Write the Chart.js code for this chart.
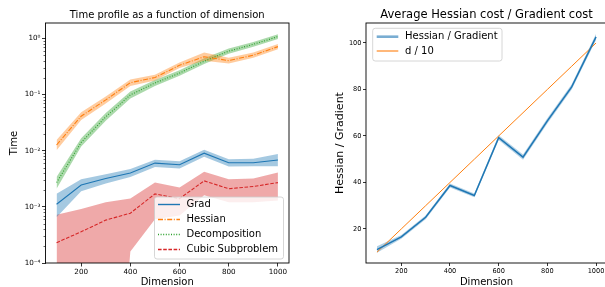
<!DOCTYPE html>
<html><head><meta charset="utf-8">
<script src="https://cdn.jsdelivr.net/npm/chart.js@4"></script>
<style>
html,body{margin:0;padding:0;background:#fff;overflow:hidden;width:605px;height:287px;}
#wrap{position:relative;width:605px;height:287px;overflow:hidden;background:#fff;}
canvas{position:absolute;top:0;}
</style></head><body>
<div id="wrap">
<canvas id="c1" width="300" height="287" style="left:0;width:300px;height:287px"></canvas>
<canvas id="c2" width="320" height="287" style="left:300px;width:320px;height:287px"></canvas>
</div>
<script>
// ---------- data ----------
const dims = [100, 200, 300, 400, 500, 600, 700, 800, 900, 1000];
const xTickValues = [200, 400, 600, 800, 1000];

const gradMean = [0.00111, 0.00245, 0.0032, 0.0040, 0.0060, 0.0056, 0.0090, 0.0061, 0.0061, 0.0068];
const gradLo   = [0.00065, 0.0019, 0.0026, 0.0034, 0.0051, 0.0048, 0.0078, 0.0052, 0.0053, 0.0053];
const gradHi   = [0.0017, 0.0031, 0.0038, 0.0047, 0.0069, 0.0065, 0.0104, 0.0070, 0.0072, 0.0087];

const hessMean = [0.0126, 0.041, 0.080, 0.162, 0.20, 0.33, 0.47, 0.40, 0.50, 0.71];
const hessLo   = [0.0102, 0.035, 0.069, 0.142, 0.178, 0.295, 0.40, 0.355, 0.45, 0.64];
const hessHi   = [0.0155, 0.048, 0.092, 0.185, 0.225, 0.37, 0.56, 0.45, 0.56, 0.79];

const decMean  = [0.0027, 0.0140, 0.040, 0.098, 0.16, 0.24, 0.39, 0.59, 0.78, 1.07];
const decLo    = [0.0021, 0.0118, 0.034, 0.085, 0.142, 0.215, 0.35, 0.53, 0.71, 0.97];
const decHi    = [0.0034, 0.0166, 0.047, 0.113, 0.18, 0.27, 0.44, 0.66, 0.86, 1.18];

const cubMean  = [0.00023, 0.00036, 0.00058, 0.00077, 0.0017, 0.0014, 0.0029, 0.0021, 0.0023, 0.0027];
const cubLo    = [1e-9, 1e-9, 1e-9, 0.00016, 0.0006, 0.0007, 0.0016, 0.0012, 0.0012, 0.0013];
const cubHi    = [0.00072, 0.00091, 0.0012, 0.0014, 0.0027, 0.0022, 0.0042, 0.0031, 0.0032, 0.0041];

const logTickValues = [1e-4, 1e-3, 1e-2, 1e-1, 1];
const logTickLabels = ['10\u207B\u2074', '10\u207B\u00B3', '10\u207B\u00B2', '10\u207B\u00B9', '10\u2070'];

const ratioMean = [11.1, 16.6, 25.0, 38.7, 34.4, 59.3, 50.9, 66.5, 81.1, 102.6];
const ratioLo   = [9.7, 15.8, 24.2, 37.8, 33.6, 58.3, 49.8, 65.4, 80.0, 101.3];
const ratioHi   = [12.5, 17.4, 25.8, 39.6, 35.2, 60.3, 52.0, 67.6, 82.2, 103.9];
const dOver10   = [10, 20, 30, 40, 50, 60, 70, 80, 90, 100];
const ratioTickValues = [20, 40, 60, 80, 100];

const labelsLeft = ['Grad', 'Hessian', 'Decomposition', 'Cubic Subproblem'];
const labelsRight = ['Hessian / Gradient', 'd / 10'];

// ---------- helpers ----------
const FONT = "'DejaVu Sans', sans-serif";
const C0 = '#1f77b4', C1 = '#ff7f0e', C2 = '#2ca02c', C3 = '#d62728';
const pts = arr => dims.map((d, i) => ({x: d, y: arr[i]}));

function lineDs(label, arr, color, dash, width, order, extra) {
  return Object.assign({label, data: pts(arr), borderColor: color, borderDash: dash,
    borderWidth: width, pointRadius: 0, fill: false, tension: 0, order, inLegend: true}, extra || {});
}
function bandDs(arr, fillColor, order, isUpper) {
  return {label: '', data: pts(arr), borderColor: 'rgba(0,0,0,0)', borderWidth: 0,
    pointRadius: 0, tension: 0, order, fill: isUpper ? '-1' : false,
    backgroundColor: fillColor, inLegend: false};
}

function framePlugin(title, titleSize, legendBox) {
  return {
    id: 'decor',
    afterDatasetsDraw(chart) {
      const ctx = chart.ctx, a = chart.chartArea;
      ctx.save();
      // minor ticks for log axis
      const ys = chart.scales.y;
      if (ys.type === 'logarithmic') {
        ctx.strokeStyle = '#000'; ctx.lineWidth = 0.6;
        ys.ticks.forEach(t => {
          if (!isMajorLog(t.value)) {
            const py = Math.round(ys.getPixelForValue(t.value)) + 0.5;
            ctx.beginPath(); ctx.moveTo(a.left - 2, py); ctx.lineTo(a.left, py); ctx.stroke();
          }
        });
      }
      // frame
      ctx.strokeStyle = '#000'; ctx.lineWidth = 0.9;
      ctx.strokeRect(a.left, a.top, a.right - a.left, a.bottom - a.top);
      // title
      ctx.fillStyle = '#000';
      ctx.font = titleSize + 'px ' + FONT;
      ctx.textAlign = 'center'; ctx.textBaseline = 'middle';
      ctx.fillText(title, (a.left + a.right) / 2, 15.5);
      // legend
      const L = legendBox;
      ctx.beginPath();
      if (ctx.roundRect) ctx.roundRect(L.x, L.y, L.w, L.h, 2.5); else ctx.rect(L.x, L.y, L.w, L.h);
      ctx.fillStyle = 'rgba(255,255,255,0.8)'; ctx.fill();
      ctx.strokeStyle = '#cccccc'; ctx.lineWidth = 0.8; ctx.stroke();
      ctx.font = L.font + 'px ' + FONT; ctx.textAlign = 'left'; ctx.textBaseline = 'middle';
      const items = chart.data.datasets.filter(d => d.inLegend);
      items.forEach((d, i) => {
        const yy = L.y + L.first + i * L.row;
        ctx.save();
        ctx.strokeStyle = d.legendColor || d.borderColor;
        ctx.lineWidth = d.legendWidth || 1.4;
        ctx.setLineDash(d.borderDash || []);
        ctx.beginPath(); ctx.moveTo(L.x + L.s0, yy); ctx.lineTo(L.x + L.s1, yy); ctx.stroke();
        ctx.restore();
        ctx.fillStyle = '#000';
        ctx.fillText(d.label, L.x + L.tx, yy);
      });
      ctx.restore();
    }
  };
}
function isMajorLog(v) {
  return logTickValues.some(t => Math.abs(v - t) / t < 1e-6);
}
const plainNum = v => String(v);

// ---------- left chart ----------
const leftDatasets = [
  lineDs(labelsLeft[0], gradMean, C0, [], 1.1, 0),
  lineDs(labelsLeft[1], hessMean, C1, [5, 1.6, 1, 1.6], 1.1, 1),
  lineDs(labelsLeft[2], decMean, C2, [1, 1.6], 1.1, 2),
  lineDs(labelsLeft[3], cubMean, C3, [3.6, 1.6], 1.1, 3),
  bandDs(gradLo, 'rgba(31,119,180,0.4)', 10, false),
  bandDs(gradHi, 'rgba(31,119,180,0.4)', 10, true),
  bandDs(hessLo, 'rgba(255,127,14,0.4)', 11, false),
  bandDs(hessHi, 'rgba(255,127,14,0.4)', 11, true),
  bandDs(decLo, 'rgba(44,160,44,0.4)', 12, false),
  bandDs(decHi, 'rgba(44,160,44,0.4)', 12, true),
  bandDs(cubLo, 'rgba(214,39,40,0.4)', 13, false),
  bandDs(cubHi, 'rgba(214,39,40,0.4)', 13, true)
];

new Chart(document.getElementById('c1'), {
  type: 'line',
  data: {datasets: leftDatasets},
  options: {
    responsive: false, animation: false, devicePixelRatio: 1,
    layout: {padding: {top: 23, right: 11, bottom: 0, left: 0}},
    plugins: {legend: {display: false}, tooltip: {enabled: false}, title: {display: false}},
    scales: {
      x: {
        type: 'linear', min: 55, max: 1045,
        afterBuildTicks: s => { s.ticks = xTickValues.map(v => ({value: v})); },
        afterFit: s => { s.height = 24; },
        grid: {drawOnChartArea: false, drawTicks: true, tickLength: 3.5, tickColor: '#000', tickWidth: 0.8},
        border: {display: false},
        ticks: {autoSkip: false, maxRotation: 0, padding: 1, color: '#000', font: {family: FONT, size: 7.2}, callback: plainNum},
        title: {display: true, text: 'Dimension', color: '#000', font: {family: FONT, size: 10, lineHeight: 1}, padding: {top: 0, bottom: 0}}
      },
      y: {
        type: 'logarithmic', min: 1e-4, max: 1.87,
        afterBuildTicks: s => {
          const t = [];
          for (let e = -4; e <= 0; e++) for (let k = 1; k <= 9; k++) {
            const v = k * Math.pow(10, e);
            if (v >= 1e-4 * 0.999999 && v <= 1.87) t.push({value: v});
          }
          s.ticks = t;
        },
        afterFit: s => { s.width = 45.5; },
        grid: {drawOnChartArea: false, drawTicks: true, tickLength: 3.5, tickWidth: 0.8,
          tickColor: c => (c.tick && isMajorLog(c.tick.value)) ? '#000' : 'rgba(0,0,0,0)'},
        border: {display: false},
        ticks: {autoSkip: false, padding: 1.5, color: '#000', font: {family: FONT, size: 7.2},
          callback: v => { const i = logTickValues.findIndex(t => Math.abs(v - t) / t < 1e-6); return i >= 0 ? logTickLabels[i] : ''; }},
        title: {display: true, text: 'Time', color: '#000', font: {family: FONT, size: 10, lineHeight: 1}, padding: {top: 9, bottom: 0}}
      }
    }
  },
  plugins: [framePlugin('Time profile as a function of dimension', 10,
    {x: 154.5, y: 197, w: 129, h: 62, first: 7.5, row: 15, s0: 3.5, s1: 25.5, tx: 32, font: 10})]
});

// ---------- right chart ----------
const rightDatasets = [
  lineDs(labelsRight[0], ratioMean, C0, [], 1.5, 0, {legendColor: 'rgba(31,119,180,0.6)', legendWidth: 2.6}),
  lineDs(labelsRight[1], dOver10, C1, [], 1, 1, {legendWidth: 1.1}),
  bandDs(ratioLo, 'rgba(31,119,180,0.35)', 10, false),
  bandDs(ratioHi, 'rgba(31,119,180,0.35)', 10, true)
];

new Chart(document.getElementById('c2'), {
  type: 'line',
  data: {datasets: rightDatasets},
  options: {
    responsive: false, animation: false, devicePixelRatio: 1,
    layout: {padding: {top: 23, right: 13, bottom: 0, left: 0}},
    plugins: {legend: {display: false}, tooltip: {enabled: false}, title: {display: false}},
    scales: {
      x: {
        type: 'linear', min: 55, max: 1045,
        afterBuildTicks: s => { s.ticks = xTickValues.map(v => ({value: v})); },
        afterFit: s => { s.height = 24; },
        grid: {drawOnChartArea: false, drawTicks: true, tickLength: 3, tickColor: '#000', tickWidth: 0.8},
        border: {display: false},
        ticks: {autoSkip: false, maxRotation: 0, padding: 1.5, color: '#000', font: {family: FONT, size: 6.6}, callback: plainNum},
        title: {display: true, text: 'Dimension', color: '#000', font: {family: FONT, size: 10, lineHeight: 1}, padding: {top: 0, bottom: 0}}
      },
      y: {
        type: 'linear', min: 5.35, max: 108.6,
        afterBuildTicks: s => { s.ticks = ratioTickValues.map(v => ({value: v})); },
        afterFit: s => { s.width = 66; },
        grid: {drawOnChartArea: false, drawTicks: true, tickLength: 3, tickColor: '#000', tickWidth: 0.8},
        border: {display: false},
        ticks: {autoSkip: false, padding: 1.5, color: '#000', font: {family: FONT, size: 6.6}, callback: plainNum},
        title: {display: true, text: 'Hessian / Gradient', color: '#000', font: {family: FONT, size: 11, lineHeight: 1}, padding: {top: 34.5, bottom: 0}}
      }
    }
  },
  plugins: [framePlugin('Average Hessian cost / Gradient cost', 11.5,
    {x: 72.7, y: 28.3, w: 129.3, h: 32.7, first: 8.4, row: 14.3, s0: 4, s1: 25.6, tx: 32.3, font: 10})]
});
</script>
</body></html>
